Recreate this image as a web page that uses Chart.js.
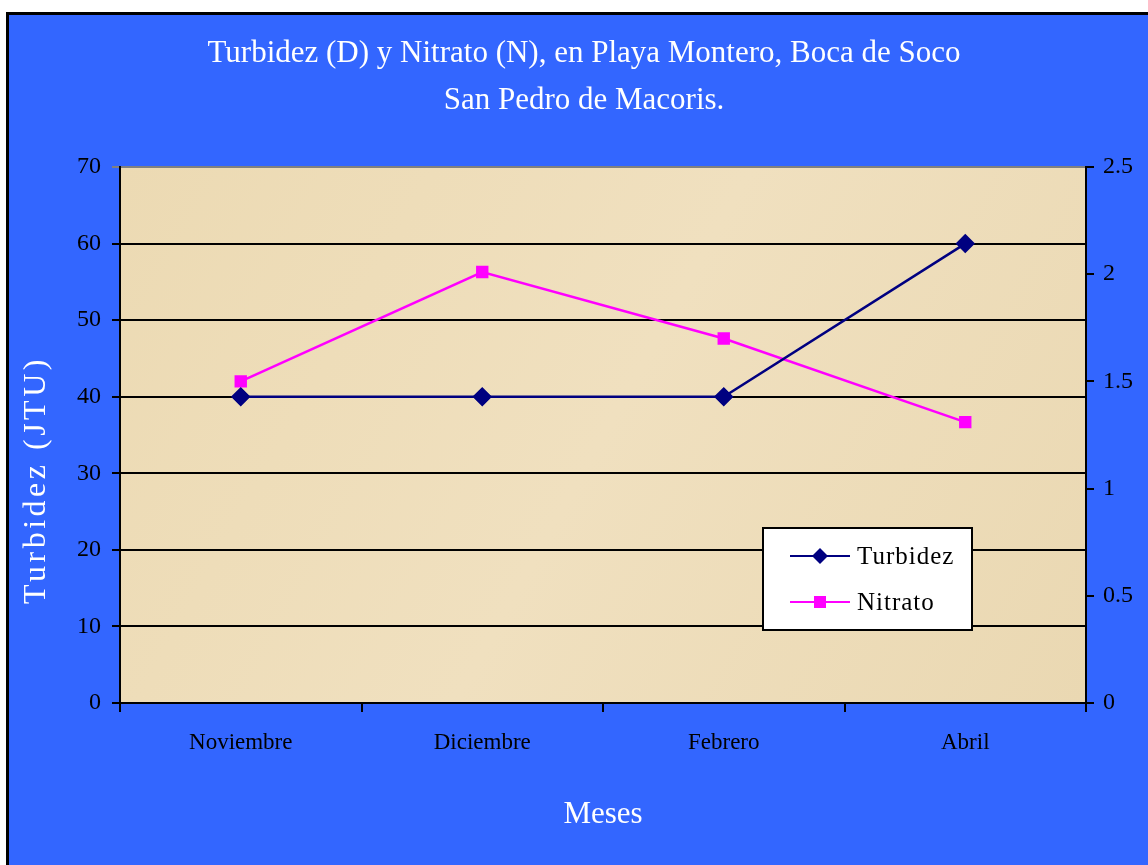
<!DOCTYPE html>
<html>
<head>
<meta charset="utf-8">
<script src="https://cdn.jsdelivr.net/npm/chart.js@4.4.1/dist/chart.umd.min.js"></script>
<style>
  html, body { margin: 0; padding: 0; background: #fff; }
  #wrap { width: 1148px; height: 865px; }
</style>
</head>
<body>
<div id="wrap"><canvas id="grafico" width="1148" height="865"></canvas></div>
<script>
// datos
const meses = ['Noviembre', 'Diciembre', 'Febrero', 'Abril'];
const turbidez = [40, 40, 40, 60];
const nitrato = [1.5, 2.01, 1.7, 1.31];
const titulo = ['Turbidez (D) y Nitrato (N), en Playa Montero, Boca de Soco', 'San Pedro de Macoris.'];
const tituloY = 'Turbidez (JTU)';
const tituloX = 'Meses';

const serif = "'Liberation Serif', 'DejaVu Serif', serif";
const azul = '#3366ff';

// fondo, titulos y leyenda dibujados a mano
const decorado = {
  id: 'decorado',
  beforeDraw(chart) {
    const ctx = chart.ctx, a = chart.chartArea;
    ctx.save();
    ctx.fillStyle = '#fff';
    ctx.fillRect(0, 0, chart.width, chart.height);
    ctx.fillStyle = '#000';
    ctx.fillRect(6, 12, chart.width - 6, chart.height - 12);
    ctx.fillStyle = azul;
    ctx.fillRect(9, 15, chart.width - 9, chart.height - 15);
    // area del grafico (pergamino)
    const g = ctx.createLinearGradient(a.left, a.top, a.right, a.bottom);
    g.addColorStop(0, '#ecdab3');
    g.addColorStop(0.5, '#f0e0bf');
    g.addColorStop(1, '#ead8b2');
    ctx.fillStyle = g;
    ctx.fillRect(a.left, a.top, a.right - a.left, a.bottom - a.top);
    ctx.restore();
  },
  afterDraw(chart) {
    const ctx = chart.ctx;
    ctx.save();
    ctx.fillStyle = '#fff';
    ctx.textAlign = 'center';
    ctx.textBaseline = 'alphabetic';
    ctx.font = '31px ' + serif;
    ctx.fillText(titulo[0], 584, 62);
    ctx.fillText(titulo[1], 584, 109);
    ctx.fillText(tituloX, 603, 823);

    ctx.save();
    ctx.translate(37, 480);
    ctx.rotate(-Math.PI / 2);
    ctx.textBaseline = 'middle';
    ctx.font = '32px ' + serif;
    ctx.letterSpacing = '3.5px';
    ctx.fillText(tituloY, 0, 0);
    ctx.restore();

    // leyenda
    const lx = 763, ly = 528, lw = 209, lh = 102;
    ctx.fillStyle = '#fff';
    ctx.fillRect(lx, ly, lw, lh);
    ctx.strokeStyle = '#000';
    ctx.lineWidth = 2;
    ctx.strokeRect(lx, ly, lw, lh);
    const filas = [556, 602];
    chart.data.datasets.forEach((ds, i) => {
      const y = filas[i];
      ctx.strokeStyle = ds.borderColor;
      ctx.lineWidth = 2;
      ctx.beginPath();
      ctx.moveTo(790, y);
      ctx.lineTo(850, y);
      ctx.stroke();
      ctx.fillStyle = ds.borderColor;
      if (ds.pointStyle === 'rectRot') {
        ctx.beginPath();
        ctx.moveTo(820, y - 8);
        ctx.lineTo(828, y);
        ctx.lineTo(820, y + 8);
        ctx.lineTo(812, y);
        ctx.closePath();
        ctx.fill();
      } else {
        ctx.fillRect(814, y - 6, 12, 12);
      }
      ctx.fillStyle = '#000';
      ctx.textAlign = 'left';
      ctx.textBaseline = 'middle';
      ctx.font = '25px ' + serif;
      ctx.letterSpacing = '1px';
      ctx.fillText(ds.label, 857, y + 1);
    });
    ctx.restore();
  }
};

new Chart(document.getElementById('grafico'), {
  type: 'line',
  data: {
    labels: meses,
    datasets: [
      {
        label: 'Turbidez',
        data: turbidez,
        yAxisID: 'y',
        borderColor: '#000080',
        backgroundColor: '#000080',
        borderWidth: 2.5,
        pointStyle: 'rectRot',
        pointRadius: 8,
        pointHoverRadius: 8,
        tension: 0
      },
      {
        label: 'Nitrato',
        data: nitrato,
        yAxisID: 'y1',
        borderColor: '#ff00ff',
        backgroundColor: '#ff00ff',
        borderWidth: 2.5,
        pointStyle: 'rect',
        pointRadius: 7,
        pointHoverRadius: 7,
        tension: 0
      }
    ]
  },
  options: {
    responsive: false,
    animation: false,
    layout: { padding: { top: 167, left: 0, right: 0, bottom: 0 } },
    plugins: { legend: { display: false }, tooltip: { enabled: false } },
    scales: {
      x: {
        offset: true,
        afterFit(s) { s.height = 162; },
        grid: { drawOnChartArea: false, color: '#000', lineWidth: 2, tickLength: 9, offset: true },
        border: { color: '#000', width: 2 },
        ticks: { color: '#000', font: { family: serif, size: 23 }, padding: 17 }
      },
      y: {
        position: 'left',
        min: 0,
        max: 70,
        afterFit(s) { s.width = 120; },
        ticks: { stepSize: 10, color: '#000', font: { family: serif, size: 24 }, padding: 11 },
        grid: {
          color: (c) => (c.tick && c.tick.value === 70 ? '#808080' : '#000'),
          lineWidth: 2,
          tickLength: 8
        },
        border: { color: '#000', width: 2 }
      },
      y1: {
        position: 'right',
        min: 0,
        max: 2.5,
        afterFit(s) { s.width = 62; },
        ticks: {
          stepSize: 0.5,
          color: '#000',
          font: { family: serif, size: 24 },
          padding: 9,
          callback: (v) => String(Number(v.toFixed(1)))
        },
        grid: { drawOnChartArea: false, color: '#000', lineWidth: 2, tickLength: 8 },
        border: { color: '#000', width: 2 }
      }
    }
  },
  plugins: [decorado]
});
</script>
</body>
</html>
